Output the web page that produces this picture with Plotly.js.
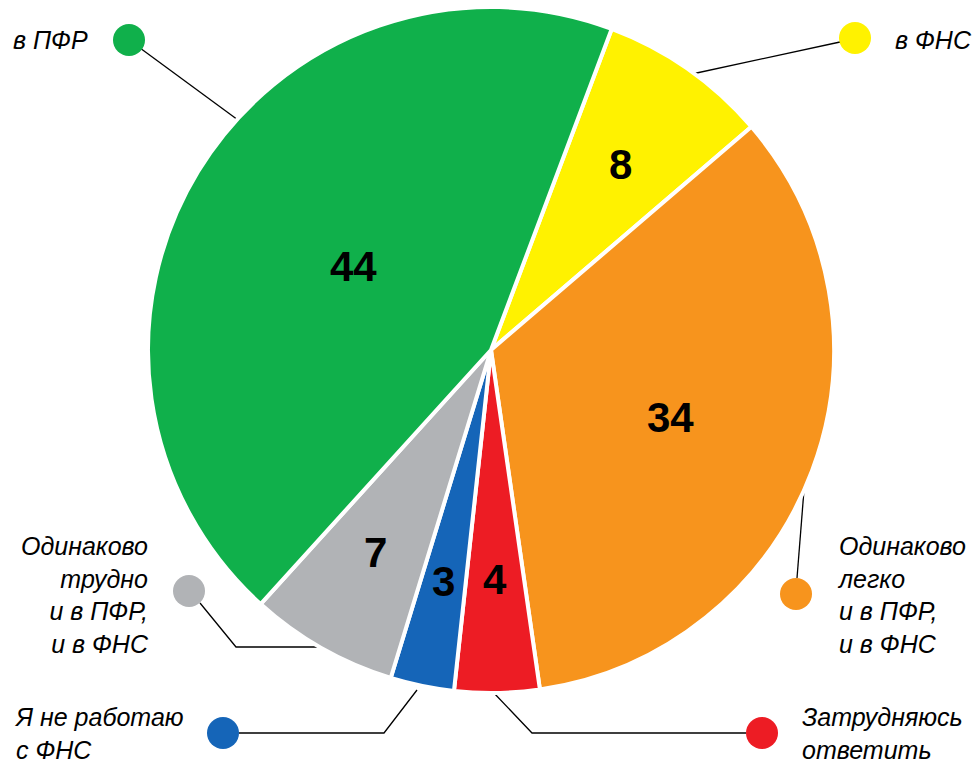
<!DOCTYPE html>
<html>
<head>
<meta charset="utf-8">
<script src="https://cdn.plot.ly/plotly-3.0.1.min.js"></script>
<style>html,body{margin:0;padding:0;background:#fff;}#chart{width:979px;height:763px;}</style>
</head>
<body>
<div id="chart"></div>
<script>
// Data
const categories = ["в ФНС", "Одинаково легко и в ПФР, и в ФНС", "Затрудняюсь ответить", "Я не работаю с ФНС", "Одинаково трудно и в ПФР, и в ФНС", "в ПФР"];
const values = [8, 34, 4, 3, 7, 44];
const colors = ["#FFF200", "#F7941D", "#ED1C24", "#1565B8", "#B1B3B6", "#10B04B"];
const labelTexts = ["в ФНС", "Одинаково<br>легко<br>и в ПФР,<br>и в ФНС", "Затрудняюсь<br>ответить", "Я не работаю<br>с ФНС", "Одинаково<br>трудно<br>и в ПФР,<br>и в ФНС", "в ПФР"];

const W = 979, H = 763;
const px = x => x / W;
const py = y => 1 - y / H;

// Pie geometry (pixels) and styling
const pie = {cx: 491, cy: 350, r: 343, rotation: 20.6};
const valueRadiusFrac = [0.66, 0.56, 0.67, 0.69, 0.68, 0.47];

// Callout layout (pixel positions of dots, text anchors and leader paths)
const callouts = [
  {dot: [855, 38], text: [893, 40], anchor: "left", path: [[840, 42], [692, 74]]},
  {dot: [796, 594], text: [835, 595], anchor: "left", path: [[797, 578], [804, 490]]},
  {dot: [762, 733], text: [800, 733], anchor: "left", path: [[746, 733], [532, 733], [493, 692]]},
  {dot: [223, 733], text: [12, 733], anchor: "left", path: [[239, 733], [384, 733], [417, 690]]},
  {dot: [189, 591], text: [151, 595], anchor: "right", path: [[200, 603], [236, 647], [322, 647]]},
  {dot: [129, 40], text: [90, 40], anchor: "right", path: [[140, 48], [238, 120]]}
];

const shapes = [];
const annotations = [];
callouts.forEach((c, i) => {
  const d = "M " + c.path.map(p => px(p[0]) + "," + py(p[1])).join(" L ");
  shapes.push({type: "path", xref: "paper", yref: "paper", path: d, line: {color: "#000", width: 1.3}, layer: "below"});
  const r = 16;
  shapes.push({type: "circle", xref: "paper", yref: "paper",
    x0: px(c.dot[0] - r), x1: px(c.dot[0] + r), y0: py(c.dot[1] + r), y1: py(c.dot[1] - r),
    fillcolor: colors[i], line: {width: 0}});
  annotations.push({xref: "paper", yref: "paper", x: px(c.text[0]), y: py(c.text[1]),
    xanchor: c.anchor, yanchor: "middle", align: c.anchor, showarrow: false,
    text: "<i>" + labelTexts[i] + "</i>",
    font: {family: "Liberation Sans, Arial, sans-serif", size: 25, color: "#000"}});
});

// Value labels placed at each slice's mid-angle
const total = values.reduce((a, b) => a + b, 0);
let cum = 0;
values.forEach((v, i) => {
  const mid = (pie.rotation + (cum + v / 2) / total * 360) * Math.PI / 180;
  cum += v;
  const rr = pie.r * valueRadiusFrac[i];
  const x = pie.cx + rr * Math.sin(mid);
  const y = pie.cy - rr * Math.cos(mid);
  annotations.push({xref: "paper", yref: "paper", x: px(x), y: py(y),
    xanchor: "center", yanchor: "middle", showarrow: false, text: "<b>" + v + "</b>",
    font: {family: "Liberation Sans, Arial, sans-serif", size: 42, color: "#000"}});
});

const trace = {
  type: "pie",
  labels: categories,
  values: values,
  sort: false,
  direction: "clockwise",
  rotation: pie.rotation,
  marker: {colors: colors, line: {color: "#fff", width: 4}},
  textinfo: "none",
  hoverinfo: "label+value",
  showlegend: false,
  domain: {x: [px(pie.cx - pie.r), px(pie.cx + pie.r)], y: [py(pie.cy + pie.r), py(pie.cy - pie.r)]}
};

const layout = {
  width: W, height: H,
  margin: {l: 0, r: 0, t: 0, b: 0},
  paper_bgcolor: "#fff",
  showlegend: false,
  shapes: shapes,
  annotations: annotations
};

Plotly.newPlot("chart", [trace], layout, {displayModeBar: false, staticPlot: true});
</script>
</body>
</html>
